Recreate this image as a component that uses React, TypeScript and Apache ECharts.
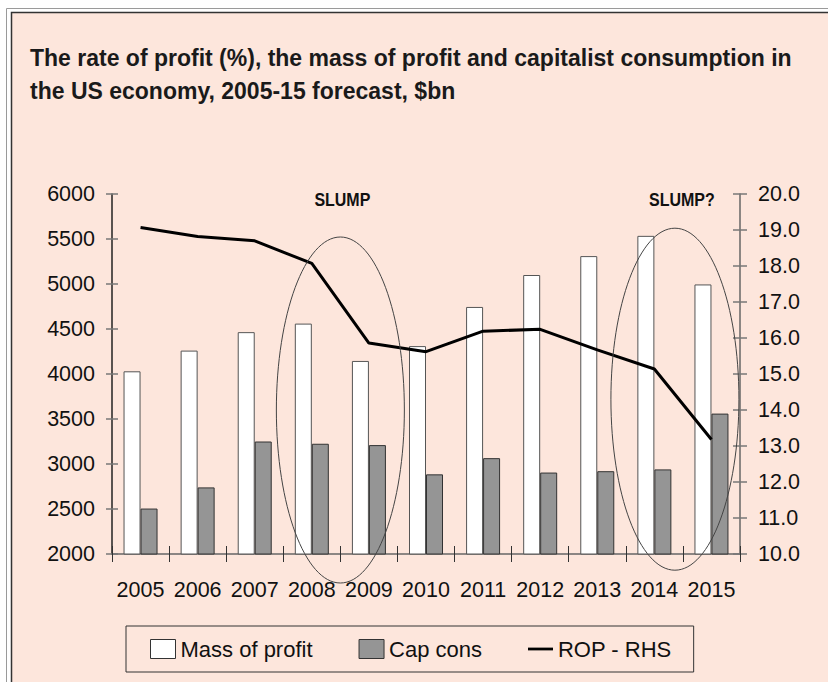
import React, { useEffect, useRef } from "react";
import * as echarts from "echarts";

const categories = ["2005", "2006", "2007", "2008", "2009", "2010", "2011", "2012", "2013", "2014", "2015"];
const massOfProfit = [4030, 4260, 4465, 4560, 4145, 4310, 4745, 5100, 5310, 5535, 4995];
const capCons = [2505, 2740, 3250, 3225, 3210, 2885, 3065, 2905, 2920, 2940, 3560];
const rop = [19.07, 18.82, 18.7, 18.07, 15.86, 15.62, 16.19, 16.24, 15.67, 15.14, 13.18];

const leftAxis = { min: 2000, max: 6000, interval: 500 };
const rightAxis = { min: 10, max: 20, interval: 1 };

const titleText = "The rate of profit (%), the mass of profit and capitalist consumption in\nthe US economy, 2005-15 forecast, $bn";
const slumpLabels = ["SLUMP", "SLUMP?"];

const FONT = "'Liberation Sans', Arial, sans-serif";
const PINK = "#FDE6DC";

export default function App() {
  const ref = useRef<HTMLDivElement>(null);

  useEffect(() => {
    if (!ref.current) return;
    const chart = echarts.init(ref.current, undefined, { renderer: "svg" });

    const tickStyle = { color: "#777", width: 1.5 };

    const option: any = {
      animation: false,
      backgroundColor: "#ffffff",
      textStyle: { fontFamily: FONT },
      title: {
        text: titleText,
        left: 30,
        top: 41,
        padding: 0,
        textStyle: {
          fontFamily: FONT,
          fontSize: 23,
          fontWeight: "bold",
          color: "#1a1a1a",
          lineHeight: 33,
        },
      },
      legend: {
        left: 126,
        top: 626,
        padding: [12, 22, 12, 24],
        itemWidth: 25,
        itemHeight: 19,
        itemGap: 46,
        borderColor: "#333",
        borderWidth: 1,
        textStyle: { fontFamily: FONT, fontSize: 22, color: "#111", padding: [0, 0, 0, 0] },
        data: [
          { name: "Mass of profit", icon: "rect", itemStyle: { color: "#fff", borderColor: "#333", borderWidth: 1 } },
          { name: "Cap cons", icon: "rect", itemStyle: { color: "#959595", borderColor: "#333", borderWidth: 1 } },
          { name: "ROP - RHS", icon: "path://M0,0 L27,0 L27,3 L0,3 Z", itemStyle: { color: "#000" } },
        ],
      },
      grid: { left: 112, right: 88, top: 194, bottom: 128, containLabel: false },
      xAxis: [
        {
          type: "category",
          data: categories,
          position: "bottom",
          axisLine: { show: true, lineStyle: { color: "#666", width: 1.5 } },
          axisTick: { show: true, interval: 0, length: 8, lineStyle: { color: "#333", width: 1 } },
          axisLabel: { fontFamily: FONT, fontSize: 21.5, color: "#111", margin: 25, interval: 0 },
          splitLine: { show: false },
        },
        {
          type: "category",
          data: categories,
          position: "bottom",
          offset: 0,
          axisLine: { show: false },
          axisTick: { show: true, inside: true, interval: 0, length: 8, lineStyle: { color: "#333", width: 1 } },
          axisLabel: { show: false },
          splitLine: { show: false },
        },
      ],
      yAxis: [
        {
          type: "value",
          position: "left",
          ...leftAxis,
          axisLine: { show: true, lineStyle: { color: "#222", width: 1.5 } },
          axisTick: { show: true, length: 6, lineStyle: tickStyle },
          axisLabel: {
            fontFamily: FONT,
            fontSize: 21.5,
            color: "#111",
            margin: 17,
            formatter: (v: number) => String(v),
          },
          splitLine: { show: false },
        },
        {
          type: "value",
          position: "right",
          ...rightAxis,
          axisLine: { show: true, lineStyle: { color: "#666", width: 1.5 } },
          axisTick: { show: true, length: 7, lineStyle: tickStyle },
          axisLabel: {
            fontFamily: FONT,
            fontSize: 21.5,
            color: "#111",
            margin: 18,
            formatter: (v: number) => v.toFixed(1),
          },
          splitLine: { show: false },
        },
        {
          type: "value",
          position: "left",
          offset: 0,
          ...leftAxis,
          axisLine: { show: false },
          axisTick: { show: true, inside: true, length: 6, lineStyle: tickStyle },
          axisLabel: { show: false },
          splitLine: { show: false },
        },
        {
          type: "value",
          position: "right",
          offset: 0,
          ...rightAxis,
          axisLine: { show: false },
          axisTick: { show: true, inside: true, length: 7, lineStyle: tickStyle },
          axisLabel: { show: false },
          splitLine: { show: false },
        },
      ],
      series: [
        {
          name: "Mass of profit",
          type: "bar",
          xAxisIndex: 0,
          yAxisIndex: 0,
          data: massOfProfit,
          barWidth: 17,
          barGap: "0%",
          itemStyle: { color: "#ffffff", borderColor: "#555", borderWidth: 1 },
          z: 2,
        },
        {
          name: "Cap cons",
          type: "bar",
          xAxisIndex: 0,
          yAxisIndex: 0,
          data: capCons,
          barWidth: 17,
          barGap: "0%",
          itemStyle: { color: "#959595", borderColor: "#333", borderWidth: 1 },
          z: 2,
        },
        {
          name: "ROP - RHS",
          type: "line",
          xAxisIndex: 0,
          yAxisIndex: 1,
          data: rop,
          symbol: "none",
          lineStyle: { color: "#000", width: 3 },
          itemStyle: { color: "#000" },
          z: 5,
        },
      ],
    };

    chart.setOption(option);

    const px = (c: string) => chart.convertToPixel({ xAxisIndex: 0 }, c) as number;
    const py = (v: number) => chart.convertToPixel({ yAxisIndex: 1 }, v) as number;
    const step = px(categories[1]) - px(categories[0]);
    const cx1 = (px("2008") + px("2009")) / 2;
    const cx2 = px("2014") + 0.36 * step;

    chart.setOption({
      graphic: [
        {
          type: "rect",
          silent: true,
          z: -20,
          shape: { x: 6.5, y: 8.5, width: 1000, height: 1000 },
          style: { fill: "#ffffff", stroke: "#9a9a9a", lineWidth: 1 },
        },
        {
          type: "rect",
          silent: true,
          z: -19,
          shape: { x: 11.5, y: 12.5, width: 1000, height: 1000 },
          style: { fill: PINK, stroke: "#333", lineWidth: 1.5 },
        },
        {
          type: "ellipse",
          silent: true,
          z: 10,
          shape: { cx: cx1, cy: py(14.0), rx: 64, ry: 173 },
          style: { fill: "none", stroke: "#444", lineWidth: 1 },
        },
        {
          type: "ellipse",
          silent: true,
          z: 10,
          shape: { cx: cx2, cy: py(14.3), rx: 64, ry: 171 },
          style: { fill: "none", stroke: "#444", lineWidth: 1 },
        },
        {
          type: "text",
          silent: true,
          z: 10,
          x: cx1 + 2,
          y: 200,
          scaleY: 1.12,
          style: {
            text: slumpLabels[0],
            fontFamily: FONT,
            fontSize: 16,
            fontWeight: "bold",
            fill: "#111",
            align: "center",
            verticalAlign: "middle",
          },
        },
        {
          type: "text",
          silent: true,
          z: 10,
          x: cx2 + 7,
          y: 200,
          scaleY: 1.12,
          style: {
            text: slumpLabels[1],
            fontFamily: FONT,
            fontSize: 16,
            fontWeight: "bold",
            fill: "#111",
            align: "center",
            verticalAlign: "middle",
          },
        },
      ],
    });

    return () => chart.dispose();
  }, []);

  return (
    <div
      ref={ref}
      style={{ position: "fixed", left: 0, top: 0, width: 828, height: 682 }}
    />
  );
}
